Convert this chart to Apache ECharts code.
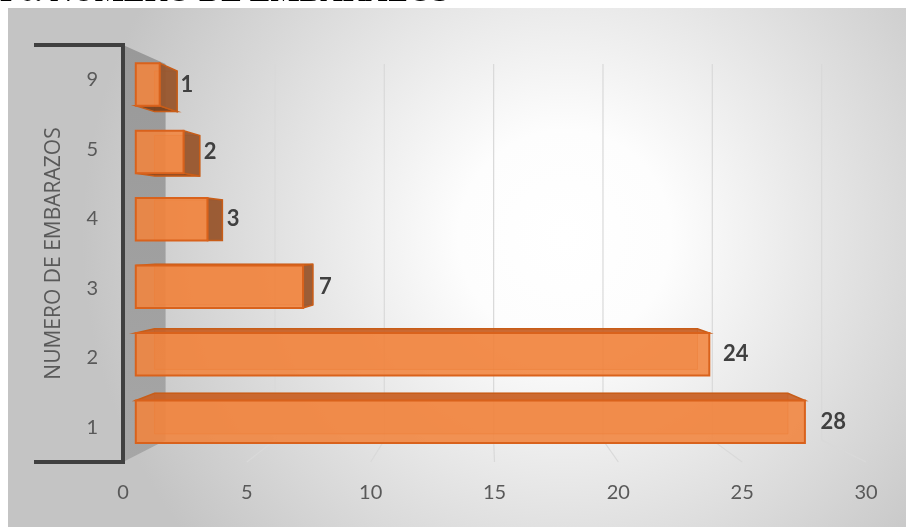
<!DOCTYPE html>
<html>
<head>
<meta charset="utf-8">
<script src="https://cdn.jsdelivr.net/npm/echarts@6/dist/echarts.min.js"></script>
<style>
  html, body { margin: 0; padding: 0; background: #fff; }
  #chart { width: 906px; height: 527px; }
</style>
</head>
<body>
<div id="chart"></div>
<script>
// datos
var categorias = ['1', '2', '3', '4', '5', '9']
var embarazos = [28, 24, 7, 3, 2, 1]
var marcasX = [0, 5, 10, 15, 20, 25, 30]
var titulo = 'F6. NÚMERO DE EMBARAZOS'
var nombreEjeY = 'NUMERO DE EMBARAZOS'

var fuente = 'Lato, "Open Sans", sans-serif'

// perspectiva tipo Excel 3D: d = 0 plano frontal, d = 1 pared del fondo
function proyectar(cs, x, y, d) {
  var vx = cs.x + cs.width * 0.49
  var vy = cs.y + cs.height * 0.465
  return [vx + (x - vx) * (1 - 0.117 * d), vy + (y - vy) * (1 - 0.098 * d)]
}

function pintarMarco(params, api) {
  var cs = params.coordSys
  var v = api.value(0)
  var x = api.coord([v, 0])[0]
  var y0 = cs.y, y1 = cs.y + cs.height
  var hijos = []

  if (params.dataIndex === 0) {
    var a = proyectar(cs, x, y0, 1), b = proyectar(cs, x, y1, 1)
    // pared lateral
    hijos.push({
      type: 'polygon',
      shape: { points: [[x, y0], a, b, [x, y1]] },
      style: {
        fill: { type: 'linear', x: 0, y: 0, x2: 0, y2: 1, colorStops: [
          { offset: 0, color: '#999999' }, { offset: 1, color: '#a6a6a6' }
        ] }
      }
    })
    // eje con corchetes
    hijos.push({
      type: 'polyline',
      shape: { points: [[x - 89, y0], [x, y0], [x, y1], [x - 89, y1]] },
      style: { stroke: '#404040', lineWidth: 4, fill: null },
      z2: 20
    })
  } else {
    var p = proyectar(cs, x, y0, 1), q = proyectar(cs, x, y1, 1)
    hijos.push({
      type: 'line',
      shape: { x1: p[0], y1: p[1], x2: q[0], y2: q[1] },
      style: { stroke: '#d9d9d9', lineWidth: 1.2 }
    })
    hijos.push({
      type: 'line',
      shape: { x1: q[0], y1: q[1], x2: x, y2: y1 },
      style: { stroke: '#d9d9d9', lineWidth: 1.2 }
    })
  }
  return { type: 'group', children: hijos }
}

function pintarBarra(params, api) {
  var cs = params.coordSys
  var cat = api.value(0)
  var v = api.value(1)
  var ini = api.coord([0, cat])
  var fin = api.coord([v, cat])
  var h = api.size([0, 1])[1] * 0.315
  var d1 = 0.3, d2 = 0.74

  var f = [proyectar(cs, ini[0], ini[1] - h, d1), proyectar(cs, fin[0], fin[1] - h, d1),
           proyectar(cs, fin[0], fin[1] + h, d1), proyectar(cs, ini[0], ini[1] + h, d1)]
  var b = [proyectar(cs, ini[0], ini[1] - h, d2), proyectar(cs, fin[0], fin[1] - h, d2),
           proyectar(cs, fin[0], fin[1] + h, d2), proyectar(cs, ini[0], ini[1] + h, d2)]

  var hijos = []
  // cara trasera
  hijos.push({
    type: 'polygon',
    shape: { points: b },
    style: { fill: 'rgba(226,110,40,0.35)', stroke: 'rgba(200,90,25,0.55)', lineWidth: 1 }
  })
  // cara superior o inferior
  if (b[0][1] < f[0][1]) {
    hijos.push({
      type: 'polygon',
      shape: { points: [f[0], f[1], b[1], b[0]] },
      style: { fill: 'rgba(200,95,35,0.9)', stroke: '#c85d18', lineWidth: 1.5 }
    })
  }
  if (b[3][1] > f[3][1]) {
    hijos.push({
      type: 'polygon',
      shape: { points: [f[3], f[2], b[2], b[3]] },
      style: { fill: 'rgba(120,62,25,0.9)', stroke: '#c85d18', lineWidth: 1.5 }
    })
  }
  // cara del extremo
  if (b[1][0] > f[1][0]) {
    hijos.push({
      type: 'polygon',
      shape: { points: [f[1], b[1], b[2], f[2]] },
      style: { fill: 'rgba(150,85,45,0.92)', stroke: '#c85d18', lineWidth: 1.5 }
    })
  }
  // cara frontal
  hijos.push({
    type: 'polygon',
    shape: { points: f },
    style: { fill: 'rgba(241,132,62,0.88)', stroke: '#d9621c', lineWidth: 2 }
  })
  // etiqueta
  var xFin = Math.max(f[1][0], b[1][0])
  hijos.push({
    type: 'text',
    style: {
      text: String(v),
      x: xFin + 3 + 0.018 * (fin[0] - cs.x),
      y: (f[1][1] + f[2][1]) / 2,
      fill: '#404040',
      font: 'bold 22px ' + fuente,
      align: 'left',
      verticalAlign: 'middle'
    }
  })
  return { type: 'group', children: hijos }
}

var chart = echarts.init(document.getElementById('chart'))

chart.setOption({
  animation: false,
  backgroundColor: '#ffffff',
  graphic: [
    {
      type: 'rect',
      z: -10,
      silent: true,
      shape: { x: 8, y: 8, width: 898, height: 519 },
      style: {
        fill: { type: 'radial', x: 0.62, y: 0.44, r: 0.93, colorStops: [
          { offset: 0, color: '#ffffff' },
          { offset: 0.22, color: '#fdfdfd' },
          { offset: 1, color: '#c4c4c4' }
        ] }
      }
    },
    {
      type: 'text',
      x: 0,
      y: -7,
      silent: true,
      style: {
        text: titulo,
        font: 'bold 31px "Liberation Serif", serif',
        fill: '#000000',
        verticalAlign: 'middle'
      }
    }
  ],
  grid: { left: 123, right: 40, top: 45, bottom: 65 },
  xAxis: {
    type: 'value',
    min: marcasX[0],
    max: marcasX[marcasX.length - 1],
    interval: 5,
    axisLine: { show: false },
    axisTick: { show: false },
    splitLine: { show: false },
    axisLabel: { color: '#595959', fontSize: 20, fontFamily: fuente, margin: 21 }
  },
  yAxis: {
    type: 'category',
    data: categorias,
    axisLine: { show: false },
    axisTick: { show: false },
    axisLabel: { color: '#595959', fontSize: 20, fontFamily: fuente, margin: 25 },
    name: nombreEjeY,
    nameLocation: 'middle',
    nameRotate: 90,
    nameGap: 58,
    nameTextStyle: { color: '#595959', fontSize: 21, fontFamily: '"Open Sans", sans-serif' }
  },
  series: [
    {
      type: 'custom',
      name: 'marco',
      z: 1,
      silent: true,
      renderItem: pintarMarco,
      encode: { x: 0, y: 1 },
      data: marcasX.map(function (m) { return [m, 0] })
    },
    {
      type: 'custom',
      name: 'embarazos',
      z: 3,
      renderItem: pintarBarra,
      encode: { x: 1, y: 0 },
      data: embarazos.map(function (n, i) { return [i, n] })
    }
  ]
})
</script>
</body>
</html>
